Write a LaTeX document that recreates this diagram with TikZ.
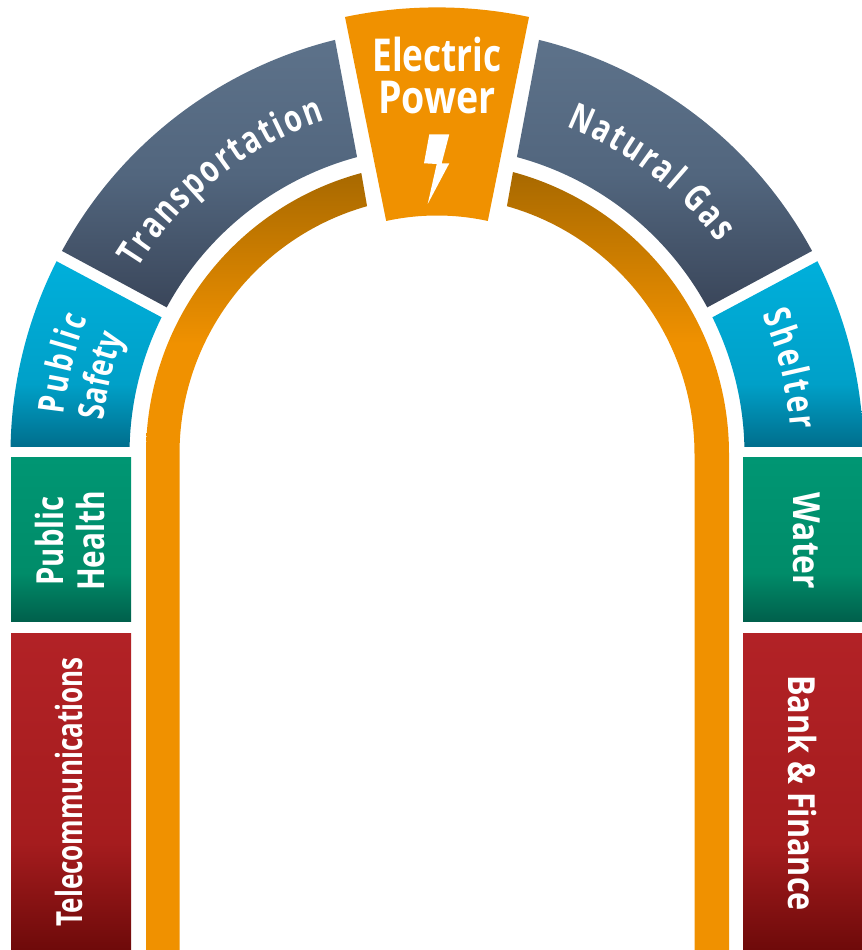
\documentclass[tikz,border=0pt]{standalone}
\usepackage{fontspec}
\usetikzlibrary{decorations.text}
\newfontfamily\panelfont[FakeStretch=0.76]{Open Sans}
\newcommand{\labelfont}[1]{\panelfont\bfseries\fontsize{#1}{#1}\selectfont}
\definecolor{powerorange}{RGB}{240,145,0}
\definecolor{bandbrown}{RGB}{168,105,0}
\definecolor{slatetop}{RGB}{93,114,138}
\definecolor{slatemid}{RGB}{82,102,126}
\definecolor{slatelow}{RGB}{58,70,90}
\definecolor{bluetop}{RGB}{0,175,219}
\definecolor{bluemid}{RGB}{0,160,200}
\definecolor{bluelow}{RGB}{0,110,140}
\definecolor{greentop}{RGB}{0,150,115}
\definecolor{greenmid}{RGB}{0,140,105}
\definecolor{greenlow}{RGB}{0,95,75}
\definecolor{redtop}{RGB}{178,34,38}
\definecolor{redmid}{RGB}{165,28,30}
\definecolor{redlow}{RGB}{110,10,10}
\pgfdeclareverticalshading{slateshade}{100bp}{color(0bp)=(slatelow);color(25bp)=(slatelow);color(50bp)=(slatemid);color(75bp)=(slatetop);color(100bp)=(slatetop)}
\pgfdeclareverticalshading{blueshade}{100bp}{color(0bp)=(bluelow);color(25bp)=(bluelow);color(42bp)=(bluemid);color(75bp)=(bluetop);color(100bp)=(bluetop)}
\pgfdeclareverticalshading{greenshade}{100bp}{color(0bp)=(greenlow);color(25bp)=(greenlow);color(40bp)=(greenmid);color(75bp)=(greentop);color(100bp)=(greentop)}
\pgfdeclareverticalshading{redshade}{100bp}{color(0bp)=(redlow);color(25bp)=(redlow);color(42bp)=(redmid);color(75bp)=(redtop);color(100bp)=(redtop)}
\pgfdeclareverticalshading{bandshade}{100bp}{color(0bp)=(powerorange);color(64bp)=(powerorange);color(75bp)=(bandbrown);color(100bp)=(bandbrown)}
\tikzset{
	panel/.style={shade,shading=#1},
	arclabel/.style n args={2}{decorate,decoration={text along path,text align=fit to path,text color=white,text={|\labelfont{#1}|#2}}},
	sidelabel/.style={text=white,inner sep=0pt,font=\labelfont{#1}},
}
\begin{document}
\begin{tikzpicture}[line cap=butt,line join=miter,x=0.75pt,y=0.75pt]
	\useasboundingbox (0,0) rectangle (862,950);
	% straight part of the columns
	\path[panel=greenshade] (11,328) rectangle (131,492);
	\path[panel=redshade] (11,0) rectangle (131,316);
	\path[panel=greenshade] (743,328) rectangle (862,492);
	\path[panel=redshade] (743,0) rectangle (862,316);
	\node[sidelabel=27,rotate=90,anchor=base] (telecom) at (82,158) {\scalebox{.95}[1]{Telecommunications}};
	\node[sidelabel=28,rotate=90,align=center] (health) at (70,409) {\scalebox{1.03}[1]{Public}\\[2.2pt]\scalebox{1.05}[1]{Health}};
	\node[sidelabel=28,rotate=-90,anchor=base] (water) at (793,409) {\scalebox{1.12}[1]{Water}};
	\node[sidelabel=28,rotate=-90,anchor=base] (bank) at (788,157) {\scalebox{1.08}[1]{Bank \& Finance}};
	% the arch
	\begin{scope}[shift={(437,496)}]
		\path[panel=bandshade] (-291,-496) -- (-291,0) arc[start angle=180,end angle=105.08,radius=291]
			-- (105.76:257.5) arc[start angle=105.76,end angle=180,radius=257.5] -- (-257.5,-496) -- cycle;
		\path[panel=bandshade] (292,-496) -- (292,0) arc[start angle=0,end angle=74.92,radius=292]
			-- (74.24:257.5) arc[start angle=74.24,end angle=0,radius=257.5] -- (257.5,-496) -- cycle;
		\path[panel=blueshade] (179.06:426.5) arc[start angle=179.06,end angle=153.13,radius=426.5]
			-- (153.6:307.5) arc[start angle=153.6,end angle=178.69,radius=307.5] -- cycle;
		\path[panel=slateshade] (151.57:426.5) arc[start angle=151.57,end angle=103.84,radius=426.5]
			-- (105.07:307.5) arc[start angle=105.07,end angle=151.52,radius=307.5] -- cycle;
		\path[panel=slateshade] (28.43:426.5) arc[start angle=28.43,end angle=76.16,radius=426.5]
			-- (74.93:307.5) arc[start angle=74.93,end angle=28.48,radius=307.5] -- cycle;
		\path[panel=blueshade] (0.94:426.5) arc[start angle=0.94,end angle=26.87,radius=426.5]
			-- (26.4:307.5) arc[start angle=26.4,end angle=1.31,radius=307.5] -- cycle;
		\fill[powerorange] (101.89:446.6) arc[start angle=101.89,end angle=78.11,radius=446.6]
			-- (77.7:238.5) arc[start angle=77.7,end angle=102.3,radius=238.5] -- cycle;
		% labels on the arc
		\path[arclabel={28}{Transportation}] (148.3:352) arc[start angle=148.3,end angle=108.5,radius=352];
		\path[arclabel={28}{Natural Gas}] (68.5:352) arc[start angle=68.5,end angle=37,radius=352];
		\path[arclabel={27}{Public}] (174:375) arc[start angle=174,end angle=158.8,radius=375];
		\path[arclabel={27}{Safety}] (174.2:335) arc[start angle=174.2,end angle=159.5,radius=335];
		\path[arclabel={28}{Shelter}] (23.2:354) arc[start angle=23.2,end angle=4,radius=354];
	\end{scope}
	\node[text=white,inner sep=0pt,align=center,font=\labelfont{34}] (power) at (437,874.5) {\scalebox{1.02}[1]{Electric}\\[-2pt]\scalebox{1.09}[1]{Power}};
	\fill[white] (429.3,815.7) -- (449.3,815.7) -- (441.7,786.7) -- (449.3,786.7) -- (427.7,746) -- (436.7,786) -- (424,786.7) -- cycle;
\end{tikzpicture}
\end{document}
